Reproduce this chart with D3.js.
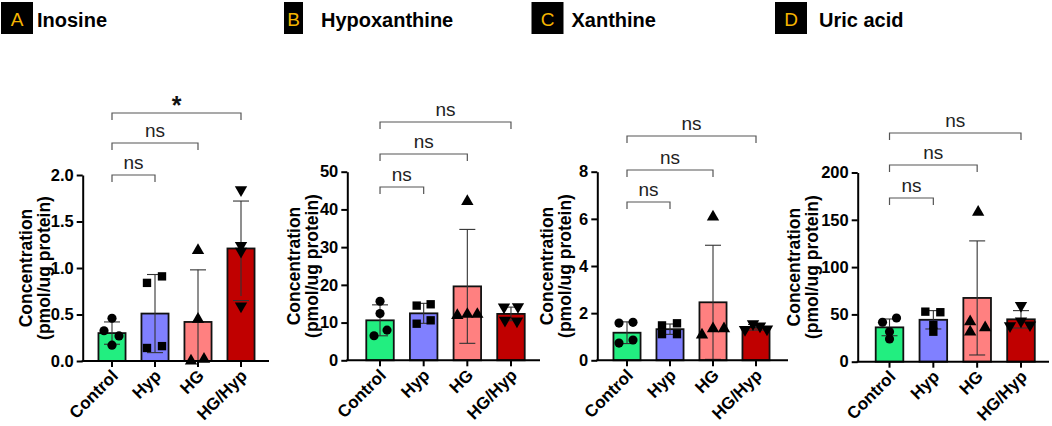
<!DOCTYPE html>
<meta charset="utf-8">
<style>
body { margin: 0; background: #fff; }
svg { display: block; font-family: "Liberation Sans", Arial, sans-serif; }
.title { font-size: 20px; font-weight: bold; fill: #000; }
.letter { font-size: 19px; fill: #f5b400; }
.yaxis text { font-size: 16.5px; font-weight: bold; fill: #000; }
.ylab { font-size: 17.5px; font-weight: bold; }
.xlab { font-size: 17px; font-weight: bold; }
.sig { font-size: 19px; fill: #222; }
.star { font-size: 25px; font-weight: bold; fill: #111; }
.bracket { fill: none; stroke: #555; stroke-width: 1.2; }
.err { stroke: #333; stroke-width: 1.1; }
</style>
<body>
<svg width="1052" height="426"></svg>

<script src="https://cdn.jsdelivr.net/npm/d3@7"></script>
<script>

var groups = ["Control", "Hyp", "HG", "HG/Hyp"];
var colors = ["#22ee80", "#8080ff", "#ff8080", "#c00000"];

// values (mean, SD, individual points)
var inosineMean = [0.30, 0.51, 0.42, 1.21],
    inosineSd = [0.12, 0.42, 0.56, 0.51],
    inosinePoints = [[0.46, 0.325, 0.27, 0.17], [0.84, 0.91, 0.14, 0.16], [1.19, 0.45, 0.0, 0.02], [1.84, 1.24, 1.18, 0.59]];

var hypoxMean = [10.6, 12.45, 19.6, 12.3],
    hypoxSd = [4.1, 2.65, 15.1, 1.8],
    hypoxPoints = [[15.65, 12.4, 8.0, 6.5], [14.5, 14.85, 9.7, 10.6], [42.1, 11.9, 12.2, 12.2], [14.1, 14.2, 10.6, 10.4]];

var xanMean = [1.17, 1.32, 2.46, 1.40],
    xanSd = [0.46, 0.22, 2.42, 0.12],
    xanPoints = [[1.58, 1.61, 0.73, 0.86], [1.48, 1.57, 1.11, 1.11], [6.08, 1.08, 1.34, 1.34], [1.30, 1.55, 1.45, 1.32]];

var uricMean = [36.3, 44.3, 67.4, 44.8],
    uricSd = [8.85, 9.7, 60.3, 9.2],
    uricPoints = [[41.7, 46.2, 31.7, 24.0], [52.9, 52.3, 38.8, 31.7], [158, 42.3, 31.4, 36], [59.3, 43, 38, 38.8]];

var comparisons = [1, 2, 3];   // Control vs Hyp, HG, HG/Hyp
var inosineSig = ["ns", "ns", "*"],
    otherSig = ["ns", "ns", "ns"];

var inosineTicks = [0, 0.5, 1.0, 1.5, 2.0],
    hypoxTicks = [0, 10, 20, 30, 40, 50],
    xanTicks = [0, 2, 4, 6, 8],
    uricTicks = [0, 50, 100, 150, 200];

// layout for each panel
var panels = [
  { letter: "A", title: "Inosine", mean: inosineMean, sd: inosineSd, pts: inosinePoints, ticks: inosineTicks, fmt: ".1f", sig: inosineSig,
    box: [1, 2, 32, 32], titleX: 37, axisX: 82.7, band: [90.5, 262.5], axisEnd: 269, y: [361, 175], ylabX: 31.5,
    brackets: [175, 143, 113], jitter: [[0, -8, 7, 0], [-8, 7, -8, 7], [0, 0, -7, 6], [0, 0, 0, 0]] },
  { letter: "B", title: "Hypoxanthine", mean: hypoxMean, sd: hypoxSd, pts: hypoxPoints, ticks: hypoxTicks, fmt: "d", sig: otherSig,
    box: [284, 2, 19, 32], titleX: 321, axisX: 347.3, band: [358.2, 532.8], axisEnd: 540, y: [360.3, 171.7], ylabX: 300,
    brackets: [187, 154, 122], jitter: [[0, 0, 7, -6], [-7, 7, -7, 7], [0, -10, 0, 10], [-7, 7, -6, 6]] },
  { letter: "C", title: "Xanthine", mean: xanMean, sd: xanSd, pts: xanPoints, ticks: xanTicks, fmt: "d", sig: otherSig,
    box: [531.5, 2, 32, 32], titleX: 571.5, axisX: 597.3, band: [605.5, 777.5], axisEnd: 788, y: [360.3, 171.7], ylabX: 553.3,
    brackets: [202, 170, 136], jitter: [[-8, 6, -8, 6], [-8, 7, -8, 7], [0, -11, 0, 11], [-11, -3, 4, 11]] },
  { letter: "D", title: "Uric acid", mean: uricMean, sd: uricSd, pts: uricPoints, ticks: uricTicks, fmt: "d", sig: otherSig,
    box: [775, 2, 32, 32], titleX: 819, axisX: 857.7, band: [867.6, 1042.9], axisEnd: 1049, y: [361.7, 172.5], ylabX: 800,
    brackets: [198, 165, 133], jitter: [[-7, 7, 0, 0], [-8, 7, 0, 0], [1, -7, -7, 8], [0, 0, -11, 9]] }
];

var symbols = [
  d3.symbol().type(d3.symbolCircle).size(66),
  d3.symbol().type(d3.symbolSquare).size(70),
  d3.symbol().type(d3.symbolTriangle).size(66),
  d3.symbol().type(d3.symbolTriangle).size(66)
];

var svg = d3.select("svg");

panels.forEach(function(p) {
  var g = svg.append("g");

  var x = d3.scaleBand()
      .domain(groups)
      .range(p.band)
      .paddingInner(0.37)
      .paddingOuter(0.185);

  var y = d3.scaleLinear()
      .domain([0, d3.max(p.ticks)])
      .range(p.y);

  // panel title
  g.append("rect")
      .attr("x", p.box[0]).attr("y", p.box[1])
      .attr("width", p.box[2]).attr("height", p.box[3])
      .attr("fill", "#000");
  g.append("text")
      .attr("class", "letter")
      .attr("x", p.box[0] + p.box[2] / 2)
      .attr("y", p.box[1] + 24)
      .attr("text-anchor", "middle")
      .text(p.letter);
  g.append("text")
      .attr("class", "title")
      .attr("x", p.titleX)
      .attr("y", 27)
      .text(p.title);

  // bars
  g.selectAll(".bar")
    .data(p.mean)
    .enter().append("rect")
      .attr("class", "bar")
      .attr("x", function(d, i) { return x(groups[i]); })
      .attr("y", function(d) { return y(d); })
      .attr("width", x.bandwidth())
      .attr("height", function(d) { return y(0) - y(d); })
      .attr("fill", function(d, i) { return colors[i]; })
      .attr("stroke", "#111")
      .attr("stroke-width", 1.8);

  // error bars (mean ± SD, clipped at 0)
  var err = g.selectAll(".errbar")
    .data(p.mean)
    .enter().append("g")
      .attr("class", "errbar")
      .attr("transform", function(d, i) { return "translate(" + (x(groups[i]) + x.bandwidth() / 2) + ",0)"; });
  err.append("line")
      .attr("class", "err")
      .attr("y1", function(d, i) { return y(Math.max(0, d - p.sd[i])); })
      .attr("y2", function(d, i) { return y(d + p.sd[i]); });
  err.append("line")
      .attr("class", "err")
      .attr("x1", -8).attr("x2", 8)
      .attr("y1", function(d, i) { return y(d + p.sd[i]); })
      .attr("y2", function(d, i) { return y(d + p.sd[i]); });
  err.filter(function(d, i) { return d - p.sd[i] > 0; })
    .append("line")
      .attr("class", "err")
      .attr("x1", -8).attr("x2", 8)
      .attr("y1", function(d, i) { return y(d - p.sd[i]); })
      .attr("y2", function(d, i) { return y(d - p.sd[i]); });

  // individual points
  p.pts.forEach(function(vals, gi) {
    var cx = x(groups[gi]) + x.bandwidth() / 2;
    g.selectAll(".pt" + gi)
      .data(vals)
      .enter().append("path")
        .attr("d", symbols[gi])
        .attr("fill", "#000")
        .attr("transform", function(d, k) {
          return "translate(" + (cx + p.jitter[gi][k]) + "," + y(d) + ")" + (gi === 3 ? " rotate(180)" : "");
        });
  });

  // y axis
  var ya = g.append("g")
      .attr("class", "yaxis")
      .attr("transform", "translate(" + p.axisX + ",0)")
      .call(d3.axisLeft(y).tickValues(p.ticks).tickSize(6).tickSizeOuter(0).tickPadding(3).tickFormat(d3.format(p.fmt)));
  ya.select(".domain").attr("stroke", "#000").attr("stroke-width", 2);
  ya.selectAll(".tick line").attr("stroke", "#000").attr("stroke-width", 2);

  // x axis
  g.append("line")
      .attr("x1", p.axisX - 1).attr("x2", p.axisEnd)
      .attr("y1", y(0)).attr("y2", y(0))
      .attr("stroke", "#000").attr("stroke-width", 2);
  var xa = g.append("g")
      .attr("transform", "translate(0," + y(0) + ")")
      .call(d3.axisBottom(x).tickSize(6).tickSizeOuter(0).tickFormat(""));
  xa.select(".domain").remove();
  xa.selectAll(".tick line").attr("stroke", "#000").attr("stroke-width", 2);

  g.selectAll(".xlab")
    .data(groups)
    .enter().append("text")
      .attr("class", "xlab")
      .attr("text-anchor", "end")
      .attr("transform", function(d) {
        return "translate(" + (x(d) + x.bandwidth() / 2 + 7) + "," + (y(0) + 16) + ") rotate(-45)";
      })
      .text(function(d) { return d; });

  // y axis title
  var midY = (p.y[0] + p.y[1]) / 2;
  g.append("text")
      .attr("class", "ylab")
      .attr("text-anchor", "middle")
      .attr("transform", "translate(" + p.ylabX + "," + midY + ") rotate(-90)")
      .text("Concentration");
  g.append("text")
      .attr("class", "ylab")
      .attr("text-anchor", "middle")
      .attr("transform", "translate(" + (p.ylabX + 18) + "," + midY + ") rotate(-90)")
      .text("(pmol/ug protein)");

  // significance brackets
  var x0 = x(groups[0]) + x.bandwidth() / 2;
  comparisons.forEach(function(t, k) {
    var x1 = x(groups[t]) + x.bandwidth() / 2,
        by = p.brackets[k];
    g.append("path")
        .attr("class", "bracket")
        .attr("d", "M" + x0 + "," + (by + 7) + "V" + by + "H" + x1 + "V" + (by + 7));
    var star = p.sig[k] === "*";
    g.append("text")
        .attr("class", star ? "star" : "sig")
        .attr("text-anchor", "middle")
        .attr("x", (x0 + x1) / 2)
        .attr("y", star ? by + 1 : by - 6)
        .text(p.sig[k]);
  });
});

</script>
</body>
